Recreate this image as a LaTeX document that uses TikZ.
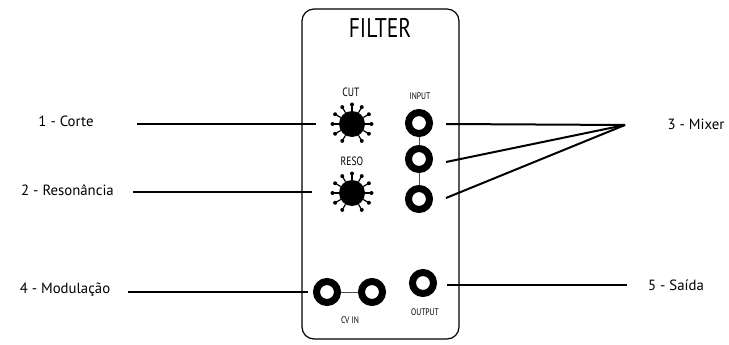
\documentclass[tikz,border=0pt]{standalone}
\usepackage{fontspec}
\setmainfont{PT Sans}
\newfontfamily\panelfont[FakeStretch=0.8]{PT Sans}
\newcommand\knobticks[1]{%
  \foreach \a in {-60,-30,...,240} {
    \draw[line width=1.2pt] (#1) ++(\a:13pt) -- ++(\a:6pt);
    \fill (#1) ++(\a:19.5pt) circle (2pt);
  }}
\begin{document}
\begin{tikzpicture}[x=1pt, y=-1pt,
    knob/.style = {circle, fill, inner sep=0pt, minimum size=26pt},
    jack/.style = {circle, draw, line width=7pt, inner sep=0pt, minimum size=21pt},
    lead/.style = {line width=2pt},
    link/.style = {line width=0.8pt, black!70},
    tag/.style = {font=\fontsize{14.8}{17}\selectfont},
    big/.style = {font=\panelfont\fontsize{12}{14}\selectfont},
    small/.style = {font=\panelfont\fontsize{9.5}{11}\selectfont}]
  \useasboundingbox (0,0) rectangle (729,345);
  % panel
  \node[draw, line width=1.2pt, rounded corners=12pt, minimum width=157pt, minimum height=330pt] (panel) at (380.5,174) {};
  \node[font=\panelfont\fontsize{27}{30}\selectfont] (title) at (380,28) {FILTER};
  % knobs
  \node[big] (cutlbl) at (351,92) {CUT};
  \node[knob] (cut) at (352,124) {};
  \knobticks{cut}
  \node[big] (resolbl) at (352,161) {RESO};
  \node[knob] (reso) at (352,193) {};
  \knobticks{reso}
  % jacks
  \node[small] (inlbl) at (420,96) {INPUT};
  \node[jack] (in1) at (419,123) {};
  \node[jack] (in2) at (419,159) {};
  \node[jack] (in3) at (419,199) {};
  \draw[link] (in1) -- (in2);
  \draw[link] (in2) -- (in3);
  \node[jack] (cv1) at (327,292) {};
  \node[jack] (cv2) at (372,292) {};
  \draw[link] (cv1) -- (cv2);
  \node[small] (cvlbl) at (350,320) {CV IN};
  \node[jack] (out) at (423,283) {};
  \node[small] (outlbl) at (425,312) {OUTPUT};
  % labels
  \node[tag] (corte) at (66,121) {1 - Corte};
  \node[tag] (resonancia) at (67.5,190) {2 - Resonância};
  \node[tag] (modulacao) at (65,290) {4 - Modulação};
  \node[tag] (mixer) at (696,124) {3 - Mixer};
  \node[tag] (saida) at (676,285) {5 - Saída};
  % leaders
  \coordinate (corteA) at (137,124);
  \coordinate (corteB) at (316,124);
  \coordinate (resoA) at (133,192);
  \coordinate (resoB) at (312,192);
  \coordinate (modA) at (128,292);
  \coordinate (modB) at (308,292);
  \coordinate (mix) at (625,125);
  \coordinate (mix1) at (446,124);
  \coordinate (mix2) at (446,162);
  \coordinate (mix3) at (446,198);
  \coordinate (outA) at (447,285);
  \coordinate (outB) at (627,285);
  \draw[lead] (corteA) -- (corteB);
  \draw[lead] (resoA) -- (resoB);
  \draw[lead] (modA) -- (modB);
  \draw[lead] (mix1) -- (mix);
  \draw[lead] (mix2) -- (mix);
  \draw[lead] (mix3) -- (mix);
  \draw[lead] (outA) -- (outB);
\end{tikzpicture}
\end{document}
